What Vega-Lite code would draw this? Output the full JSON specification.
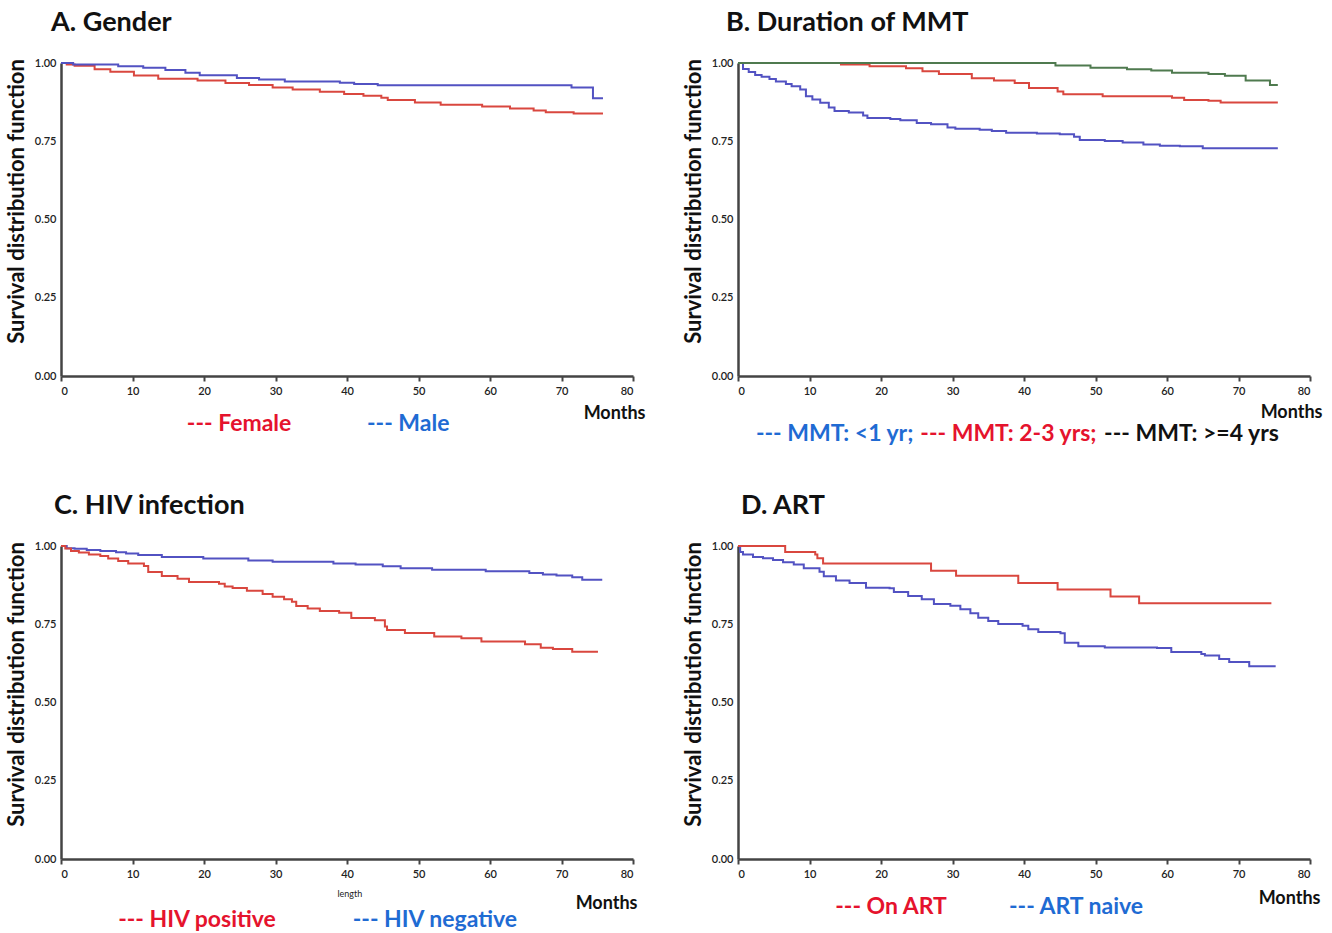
{
  "$schema": "https://vega.github.io/schema/vega-lite/v6.json",
  "padding": {"left": 5, "top": 9, "right": 5, "bottom": 3},
  "config": {
    "view": {"stroke": null},
    "font": "Lato",
    "axis": {"grid": false, "domainColor": "#444", "domainWidth": 2.5, "labelFont": "Lato", "labelFontSize": 11, "labelFontWeight": 600, "labelColor": "#222", "titleFont": "Lato", "titleFontWeight": "bold", "titleColor": "#111"},
    "title": {"font": "Lato", "fontWeight": "bold", "fontSize": 27, "color": "#111", "anchor": "start", "frame": "group"}
  },
  "resolve": {"scale": {"color": "independent"}},
  "datasets": {
    "gender": [
      {"month":0,"surv":1.0,"group":"Female"},{"month":0.8,"surv":0.995,"group":"Female"},{"month":1.9,"surv":0.991,"group":"Female"},{"month":4.7,"surv":0.98,"group":"Female"},{"month":6.9,"surv":0.972,"group":"Female"},{"month":10.2,"surv":0.96,"group":"Female"},{"month":13.6,"surv":0.95,"group":"Female"},{"month":19.1,"surv":0.944,"group":"Female"},{"month":23.0,"surv":0.936,"group":"Female"},{"month":26.3,"surv":0.93,"group":"Female"},{"month":29.6,"surv":0.922,"group":"Female"},{"month":32.4,"surv":0.915,"group":"Female"},{"month":36.2,"surv":0.908,"group":"Female"},{"month":39.6,"surv":0.901,"group":"Female"},{"month":42.3,"surv":0.895,"group":"Female"},{"month":44.8,"surv":0.889,"group":"Female"},{"month":45.7,"surv":0.882,"group":"Female"},{"month":49.5,"surv":0.874,"group":"Female"},{"month":53.1,"surv":0.867,"group":"Female"},{"month":58.9,"surv":0.861,"group":"Female"},{"month":62.8,"surv":0.855,"group":"Female"},{"month":66.1,"surv":0.848,"group":"Female"},{"month":67.8,"surv":0.843,"group":"Female"},{"month":71.7,"surv":0.839,"group":"Female"},{"month":75.8,"surv":0.839,"group":"Female"},
      {"month":0,"surv":1.0,"group":"Male"},{"month":1.7,"surv":0.995,"group":"Male"},{"month":8.0,"surv":0.99,"group":"Male"},{"month":11.5,"surv":0.985,"group":"Male"},{"month":14.6,"surv":0.978,"group":"Male"},{"month":17.4,"surv":0.969,"group":"Male"},{"month":19.4,"surv":0.961,"group":"Male"},{"month":24.6,"surv":0.952,"group":"Male"},{"month":27.7,"surv":0.947,"group":"Male"},{"month":31.3,"surv":0.941,"group":"Male"},{"month":39.0,"surv":0.937,"group":"Male"},{"month":41.0,"surv":0.933,"group":"Male"},{"month":44.3,"surv":0.929,"group":"Male"},{"month":71.4,"surv":0.922,"group":"Male"},{"month":74.4,"surv":0.887,"group":"Male"},{"month":75.8,"surv":0.887,"group":"Male"}
    ],
    "mmt": [
      {"month":0,"surv":1.0,"group":"<1 yr"},{"month":0.7,"surv":0.981,"group":"<1 yr"},{"month":1.5,"surv":0.971,"group":"<1 yr"},{"month":2.4,"surv":0.962,"group":"<1 yr"},{"month":3.3,"surv":0.956,"group":"<1 yr"},{"month":4.4,"surv":0.949,"group":"<1 yr"},{"month":5.3,"surv":0.941,"group":"<1 yr"},{"month":6.7,"surv":0.933,"group":"<1 yr"},{"month":7.5,"surv":0.926,"group":"<1 yr"},{"month":8.7,"surv":0.915,"group":"<1 yr"},{"month":9.5,"surv":0.894,"group":"<1 yr"},{"month":10.4,"surv":0.883,"group":"<1 yr"},{"month":11.5,"surv":0.873,"group":"<1 yr"},{"month":12.7,"surv":0.858,"group":"<1 yr"},{"month":13.5,"surv":0.847,"group":"<1 yr"},{"month":15.5,"surv":0.842,"group":"<1 yr"},{"month":17.5,"surv":0.832,"group":"<1 yr"},{"month":18.1,"surv":0.824,"group":"<1 yr"},{"month":21.3,"surv":0.821,"group":"<1 yr"},{"month":22.7,"surv":0.817,"group":"<1 yr"},{"month":25.0,"surv":0.808,"group":"<1 yr"},{"month":27.0,"surv":0.804,"group":"<1 yr"},{"month":29.3,"surv":0.794,"group":"<1 yr"},{"month":30.4,"surv":0.79,"group":"<1 yr"},{"month":33.8,"surv":0.787,"group":"<1 yr"},{"month":35.5,"surv":0.783,"group":"<1 yr"},{"month":37.5,"surv":0.777,"group":"<1 yr"},{"month":41.8,"surv":0.775,"group":"<1 yr"},{"month":45.0,"surv":0.772,"group":"<1 yr"},{"month":47.0,"surv":0.764,"group":"<1 yr"},{"month":47.8,"surv":0.754,"group":"<1 yr"},{"month":51.3,"surv":0.751,"group":"<1 yr"},{"month":53.8,"surv":0.746,"group":"<1 yr"},{"month":56.7,"surv":0.74,"group":"<1 yr"},{"month":59.0,"surv":0.736,"group":"<1 yr"},{"month":61.8,"surv":0.734,"group":"<1 yr"},{"month":65.0,"surv":0.728,"group":"<1 yr"},{"month":75.5,"surv":0.728,"group":"<1 yr"},
      {"month":0,"surv":1.0,"group":"2-3 yrs"},{"month":14.4,"surv":0.995,"group":"2-3 yrs"},{"month":18.4,"surv":0.99,"group":"2-3 yrs"},{"month":23.5,"surv":0.983,"group":"2-3 yrs"},{"month":25.8,"surv":0.974,"group":"2-3 yrs"},{"month":28.1,"surv":0.965,"group":"2-3 yrs"},{"month":32.7,"surv":0.951,"group":"2-3 yrs"},{"month":35.8,"surv":0.944,"group":"2-3 yrs"},{"month":38.7,"surv":0.936,"group":"2-3 yrs"},{"month":40.7,"surv":0.92,"group":"2-3 yrs"},{"month":44.7,"surv":0.909,"group":"2-3 yrs"},{"month":45.5,"surv":0.9,"group":"2-3 yrs"},{"month":51.0,"surv":0.894,"group":"2-3 yrs"},{"month":60.7,"surv":0.889,"group":"2-3 yrs"},{"month":62.4,"surv":0.882,"group":"2-3 yrs"},{"month":65.8,"surv":0.879,"group":"2-3 yrs"},{"month":67.5,"surv":0.874,"group":"2-3 yrs"},{"month":75.5,"surv":0.874,"group":"2-3 yrs"},
      {"month":0,"surv":1.0,"group":">=4 yrs"},{"month":44.4,"surv":0.992,"group":">=4 yrs"},{"month":49.3,"surv":0.985,"group":">=4 yrs"},{"month":54.4,"surv":0.98,"group":">=4 yrs"},{"month":57.8,"surv":0.976,"group":">=4 yrs"},{"month":60.7,"surv":0.969,"group":">=4 yrs"},{"month":65.8,"surv":0.965,"group":">=4 yrs"},{"month":68.1,"surv":0.959,"group":">=4 yrs"},{"month":71.0,"surv":0.944,"group":">=4 yrs"},{"month":74.4,"surv":0.93,"group":">=4 yrs"},{"month":75.5,"surv":0.93,"group":">=4 yrs"}
    ],
    "hiv": [
      {"month":0,"surv":1.0,"group":"HIV negative"},{"month":0.8,"surv":0.993,"group":"HIV negative"},{"month":1.9,"surv":0.991,"group":"HIV negative"},{"month":3.6,"surv":0.987,"group":"HIV negative"},{"month":5.5,"surv":0.984,"group":"HIV negative"},{"month":7.7,"surv":0.98,"group":"HIV negative"},{"month":9.1,"surv":0.976,"group":"HIV negative"},{"month":10.8,"surv":0.971,"group":"HIV negative"},{"month":14.1,"surv":0.965,"group":"HIV negative"},{"month":19.9,"surv":0.96,"group":"HIV negative"},{"month":26.2,"surv":0.954,"group":"HIV negative"},{"month":29.6,"surv":0.95,"group":"HIV negative"},{"month":38.1,"surv":0.944,"group":"HIV negative"},{"month":41.2,"surv":0.941,"group":"HIV negative"},{"month":45.0,"surv":0.935,"group":"HIV negative"},{"month":47.5,"surv":0.929,"group":"HIV negative"},{"month":51.9,"surv":0.924,"group":"HIV negative"},{"month":59.4,"surv":0.919,"group":"HIV negative"},{"month":65.5,"surv":0.914,"group":"HIV negative"},{"month":67.4,"surv":0.909,"group":"HIV negative"},{"month":69.3,"surv":0.906,"group":"HIV negative"},{"month":71.5,"surv":0.9,"group":"HIV negative"},{"month":72.9,"surv":0.892,"group":"HIV negative"},{"month":75.7,"surv":0.892,"group":"HIV negative"},
      {"month":0,"surv":1.0,"group":"HIV positive"},{"month":0.6,"surv":0.992,"group":"HIV positive"},{"month":1.4,"surv":0.984,"group":"HIV positive"},{"month":2.5,"surv":0.979,"group":"HIV positive"},{"month":3.9,"surv":0.973,"group":"HIV positive"},{"month":5.5,"surv":0.968,"group":"HIV positive"},{"month":6.6,"surv":0.96,"group":"HIV positive"},{"month":8.0,"surv":0.952,"group":"HIV positive"},{"month":9.4,"surv":0.944,"group":"HIV positive"},{"month":11.6,"surv":0.936,"group":"HIV positive"},{"month":12.2,"surv":0.917,"group":"HIV positive"},{"month":14.1,"surv":0.904,"group":"HIV positive"},{"month":16.3,"surv":0.895,"group":"HIV positive"},{"month":17.9,"surv":0.885,"group":"HIV positive"},{"month":22.1,"surv":0.879,"group":"HIV positive"},{"month":22.9,"surv":0.871,"group":"HIV positive"},{"month":24.0,"surv":0.866,"group":"HIV positive"},{"month":26.0,"surv":0.857,"group":"HIV positive"},{"month":28.2,"surv":0.847,"group":"HIV positive"},{"month":29.6,"surv":0.838,"group":"HIV positive"},{"month":31.2,"surv":0.83,"group":"HIV positive"},{"month":32.3,"surv":0.822,"group":"HIV positive"},{"month":32.9,"surv":0.808,"group":"HIV positive"},{"month":34.5,"surv":0.8,"group":"HIV positive"},{"month":36.2,"surv":0.792,"group":"HIV positive"},{"month":38.9,"surv":0.787,"group":"HIV positive"},{"month":40.6,"surv":0.77,"group":"HIV positive"},{"month":43.9,"surv":0.763,"group":"HIV positive"},{"month":45.3,"surv":0.743,"group":"HIV positive"},{"month":45.6,"surv":0.732,"group":"HIV positive"},{"month":48.1,"surv":0.722,"group":"HIV positive"},{"month":52.2,"surv":0.711,"group":"HIV positive"},{"month":56.0,"surv":0.705,"group":"HIV positive"},{"month":58.8,"surv":0.695,"group":"HIV positive"},{"month":64.9,"surv":0.686,"group":"HIV positive"},{"month":67.1,"surv":0.675,"group":"HIV positive"},{"month":68.8,"surv":0.671,"group":"HIV positive"},{"month":71.5,"surv":0.662,"group":"HIV positive"},{"month":75.1,"surv":0.662,"group":"HIV positive"}
    ],
    "art": [
      {"month":0,"surv":1.0,"group":"ART naive"},{"month":0.3,"surv":0.981,"group":"ART naive"},{"month":0.7,"surv":0.973,"group":"ART naive"},{"month":2.1,"surv":0.965,"group":"ART naive"},{"month":3.5,"surv":0.961,"group":"ART naive"},{"month":4.9,"surv":0.955,"group":"ART naive"},{"month":6.3,"surv":0.948,"group":"ART naive"},{"month":7.8,"surv":0.941,"group":"ART naive"},{"month":9.2,"surv":0.929,"group":"ART naive"},{"month":11.4,"surv":0.918,"group":"ART naive"},{"month":12.0,"surv":0.903,"group":"ART naive"},{"month":13.7,"surv":0.89,"group":"ART naive"},{"month":15.6,"surv":0.882,"group":"ART naive"},{"month":17.9,"surv":0.867,"group":"ART naive"},{"month":21.2,"surv":0.865,"group":"ART naive"},{"month":21.8,"surv":0.853,"group":"ART naive"},{"month":23.8,"surv":0.84,"group":"ART naive"},{"month":25.7,"surv":0.83,"group":"ART naive"},{"month":27.4,"surv":0.815,"group":"ART naive"},{"month":29.7,"surv":0.809,"group":"ART naive"},{"month":31.1,"surv":0.798,"group":"ART naive"},{"month":32.5,"surv":0.785,"group":"ART naive"},{"month":33.6,"surv":0.771,"group":"ART naive"},{"month":35.0,"surv":0.76,"group":"ART naive"},{"month":36.4,"surv":0.751,"group":"ART naive"},{"month":39.8,"surv":0.745,"group":"ART naive"},{"month":40.6,"surv":0.734,"group":"ART naive"},{"month":42.0,"surv":0.725,"group":"ART naive"},{"month":45.1,"surv":0.721,"group":"ART naive"},{"month":45.7,"surv":0.691,"group":"ART naive"},{"month":47.6,"surv":0.68,"group":"ART naive"},{"month":51.3,"surv":0.676,"group":"ART naive"},{"month":58.6,"surv":0.674,"group":"ART naive"},{"month":60.6,"surv":0.661,"group":"ART naive"},{"month":64.8,"surv":0.655,"group":"ART naive"},{"month":65.3,"surv":0.65,"group":"ART naive"},{"month":67.3,"surv":0.639,"group":"ART naive"},{"month":68.7,"surv":0.629,"group":"ART naive"},{"month":71.5,"surv":0.616,"group":"ART naive"},{"month":75.2,"surv":0.616,"group":"ART naive"},
      {"month":0,"surv":1.0,"group":"On ART"},{"month":6.6,"surv":0.981,"group":"On ART"},{"month":10.8,"surv":0.973,"group":"On ART"},{"month":11.1,"surv":0.961,"group":"On ART"},{"month":11.9,"surv":0.944,"group":"On ART"},{"month":27.0,"surv":0.921,"group":"On ART"},{"month":30.5,"surv":0.905,"group":"On ART"},{"month":39.2,"surv":0.882,"group":"On ART"},{"month":44.7,"surv":0.861,"group":"On ART"},{"month":52.1,"surv":0.839,"group":"On ART"},{"month":56.1,"surv":0.817,"group":"On ART"},{"month":74.6,"surv":0.817,"group":"On ART"}
    ]
  },
  "columns": 2,
  "spacing": {"column": 37, "row": 46},
  "concat": [
    {
      "title": {"text": "A. Gender", "dx": -10, "offset": 20},
      "width": 572, "height": 313,
      "layer": [
        {
          "data": {"name": "gender"},
          "mark": {"type": "line", "interpolate": "step-after", "strokeWidth": 2},
          "encoding": {
            "x": {"field": "month", "type": "quantitative", "scale": {"domain": [0, 80]}, "axis": {"values": [0,10,20,30,40,50,60,70,80], "format": "d", "tickSize": 5, "tickWidth": 2, "tickColor": "#444", "labelPadding": 4, "title": "Months", "titleX": 584, "titleAlign": "right", "titleFontSize": 18, "titlePadding": 8}},
            "y": {"field": "surv", "type": "quantitative", "scale": {"domain": [0, 1]}, "axis": {"values": [0,0.25,0.5,0.75,1], "format": ".2f", "ticks": false, "labelPadding": 5, "title": "Survival distribution function", "titleY": 138, "titleFontSize": 22, "titlePadding": 6}},
            "color": {"field": "group", "type": "nominal", "scale": {"domain": ["Female", "Male"], "range": ["#d9473f", "#5252c2"]}, "legend": null}
          }
        },
        {"data": {"values": [{"label": "--- Female"}]}, "mark": {"type": "text", "align": "left", "baseline": "middle", "fontSize": 23, "fontWeight": "bold", "color": "#e5132d"}, "encoding": {"x": {"datum": 17.6, "type": "quantitative"}, "y": {"datum": -0.153, "type": "quantitative"}, "text": {"field": "label"}}},
        {"data": {"values": [{"label": "--- Male"}]}, "mark": {"type": "text", "align": "left", "baseline": "middle", "fontSize": 23, "fontWeight": "bold", "color": "#1f6bd3"}, "encoding": {"x": {"datum": 42.8, "type": "quantitative"}, "y": {"datum": -0.153, "type": "quantitative"}, "text": {"field": "label"}}}
      ]
    },
    {
      "title": {"text": "B. Duration of MMT", "dx": -12, "offset": 20},
      "width": 572, "height": 313,
      "layer": [
        {
          "data": {"name": "mmt"},
          "mark": {"type": "line", "interpolate": "step-after", "strokeWidth": 2},
          "encoding": {
            "x": {"field": "month", "type": "quantitative", "scale": {"domain": [0, 80]}, "axis": {"values": [0,10,20,30,40,50,60,70,80], "format": "d", "tickSize": 5, "tickWidth": 2, "tickColor": "#444", "labelPadding": 4, "title": "Months", "titleX": 584, "titleAlign": "right", "titleFontSize": 18, "titlePadding": 7}},
            "y": {"field": "surv", "type": "quantitative", "scale": {"domain": [0, 1]}, "axis": {"values": [0,0.25,0.5,0.75,1], "format": ".2f", "ticks": false, "labelPadding": 5, "title": "Survival distribution function", "titleY": 138, "titleFontSize": 22, "titlePadding": 6}},
            "color": {"field": "group", "type": "nominal", "scale": {"domain": ["<1 yr", "2-3 yrs", ">=4 yrs"], "range": ["#5252c2", "#d9473f", "#4f7a4f"]}, "legend": null}
          }
        },
        {"data": {"values": [{"label": "--- MMT:  <1 yr;"}]}, "mark": {"type": "text", "align": "left", "baseline": "middle", "fontSize": 23, "fontWeight": "bold", "color": "#1f6bd3"}, "encoding": {"x": {"datum": 2.5, "type": "quantitative"}, "y": {"datum": -0.185, "type": "quantitative"}, "text": {"field": "label"}}},
        {"data": {"values": [{"label": "--- MMT: 2-3 yrs;"}]}, "mark": {"type": "text", "align": "left", "baseline": "middle", "fontSize": 23, "fontWeight": "bold", "color": "#e5132d"}, "encoding": {"x": {"datum": 25.5, "type": "quantitative"}, "y": {"datum": -0.185, "type": "quantitative"}, "text": {"field": "label"}}},
        {"data": {"values": [{"label": "--- MMT: >=4 yrs"}]}, "mark": {"type": "text", "align": "left", "baseline": "middle", "fontSize": 23, "fontWeight": "bold", "color": "#111111"}, "encoding": {"x": {"datum": 51.2, "type": "quantitative"}, "y": {"datum": -0.185, "type": "quantitative"}, "text": {"field": "label"}}}
      ]
    },
    {
      "title": {"text": "C. HIV infection", "dx": -7, "offset": 20},
      "width": 572, "height": 313,
      "layer": [
        {
          "data": {"name": "hiv"},
          "mark": {"type": "line", "interpolate": "step-after", "strokeWidth": 2},
          "encoding": {
            "x": {"field": "month", "type": "quantitative", "scale": {"domain": [0, 80]}, "axis": {"values": [0,10,20,30,40,50,60,70,80], "format": "d", "tickSize": 5, "tickWidth": 2, "tickColor": "#444", "labelPadding": 4, "title": "Months", "titleX": 576, "titleAlign": "right", "titleFontSize": 18, "titlePadding": 15}},
            "y": {"field": "surv", "type": "quantitative", "scale": {"domain": [0, 1]}, "axis": {"values": [0,0.25,0.5,0.75,1], "format": ".2f", "ticks": false, "labelPadding": 5, "title": "Survival distribution function", "titleY": 138, "titleFontSize": 22, "titlePadding": 6}},
            "color": {"field": "group", "type": "nominal", "scale": {"domain": ["HIV positive", "HIV negative"], "range": ["#d9473f", "#5252c2"]}, "legend": null}
          }
        },
        {"data": {"values": [{"label": "length"}]}, "mark": {"type": "text", "align": "center", "baseline": "middle", "fontSize": 9, "color": "#222"}, "encoding": {"x": {"datum": 40.4, "type": "quantitative"}, "y": {"datum": -0.113, "type": "quantitative"}, "text": {"field": "label"}}},
        {"data": {"values": [{"label": "--- HIV positive"}]}, "mark": {"type": "text", "align": "left", "baseline": "middle", "fontSize": 23, "fontWeight": "bold", "color": "#e5132d"}, "encoding": {"x": {"datum": 8.0, "type": "quantitative"}, "y": {"datum": -0.196, "type": "quantitative"}, "text": {"field": "label"}}},
        {"data": {"values": [{"label": "--- HIV negative"}]}, "mark": {"type": "text", "align": "left", "baseline": "middle", "fontSize": 23, "fontWeight": "bold", "color": "#1f6bd3"}, "encoding": {"x": {"datum": 40.8, "type": "quantitative"}, "y": {"datum": -0.196, "type": "quantitative"}, "text": {"field": "label"}}}
      ]
    },
    {
      "title": {"text": "D. ART", "dx": 3, "offset": 20},
      "width": 572, "height": 313,
      "layer": [
        {
          "data": {"name": "art"},
          "mark": {"type": "line", "interpolate": "step-after", "strokeWidth": 2},
          "encoding": {
            "x": {"field": "month", "type": "quantitative", "scale": {"domain": [0, 80]}, "axis": {"values": [0,10,20,30,40,50,60,70,80], "format": "d", "tickSize": 5, "tickWidth": 2, "tickColor": "#444", "labelPadding": 4, "title": "Months", "titleX": 582, "titleAlign": "right", "titleFontSize": 18, "titlePadding": 10}},
            "y": {"field": "surv", "type": "quantitative", "scale": {"domain": [0, 1]}, "axis": {"values": [0,0.25,0.5,0.75,1], "format": ".2f", "ticks": false, "labelPadding": 5, "title": "Survival distribution function", "titleY": 138, "titleFontSize": 22, "titlePadding": 6}},
            "color": {"field": "group", "type": "nominal", "scale": {"domain": ["On ART", "ART naive"], "range": ["#d9473f", "#5252c2"]}, "legend": null}
          }
        },
        {"data": {"values": [{"label": "--- On ART"}]}, "mark": {"type": "text", "align": "left", "baseline": "middle", "fontSize": 23, "fontWeight": "bold", "color": "#e5132d"}, "encoding": {"x": {"datum": 13.6, "type": "quantitative"}, "y": {"datum": -0.154, "type": "quantitative"}, "text": {"field": "label"}}},
        {"data": {"values": [{"label": "--- ART naive"}]}, "mark": {"type": "text", "align": "left", "baseline": "middle", "fontSize": 23, "fontWeight": "bold", "color": "#1f6bd3"}, "encoding": {"x": {"datum": 37.9, "type": "quantitative"}, "y": {"datum": -0.154, "type": "quantitative"}, "text": {"field": "label"}}}
      ]
    }
  ]
}
